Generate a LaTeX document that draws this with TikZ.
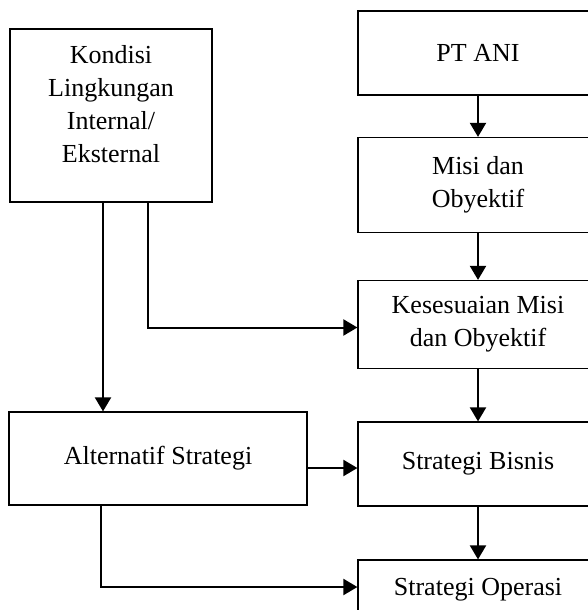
\documentclass[tikz,border=0pt]{standalone}
\usepackage{fontspec}
\setmainfont{Liberation Serif}
\usetikzlibrary{shapes,arrows.meta}
\tikzstyle{block} = [rectangle, draw, line width=1.2pt, text centered, align=center, font=\fontsize{26}{33}\selectfont]
\tikzstyle{line} = [draw, line width=2pt, -{Triangle[length=14pt,width=16pt]}]

\begin{document}
\begin{tikzpicture}[x=1pt, y=-1pt, node distance=139.5pt]
   \clip (0,0) rectangle (588,610);
   \node[block, minimum width=202pt, minimum height=173pt] (k) at (111,115.5) {Kondisi\\Lingkungan\\Internal/\\Eksternal\\[-10pt]};
   \node[block, minimum width=298pt, minimum height=93pt] (alt) at (158,458.5) {Alternatif Strategi};
   \node[block, minimum width=240pt, minimum height=84pt] (a) at (478,53) {PT ANI};
   \node[block, minimum width=240pt, minimum height=95pt] (b) [below of=a, node distance=132pt] {Misi dan\\Obyektif};
   \node[block, minimum width=240pt, minimum height=88pt] (c) [below of=b] {Kesesuaian Misi\\dan Obyektif};
   \node[block, minimum width=240pt, minimum height=84pt] (d) [below of=c] {Strategi Bisnis};
   \node[block, minimum width=240pt, minimum height=60pt] (e) [below of=d, node distance=126pt] {Strategi Operasi};
   \draw[line] (a) -- (b);
   \draw[line] (b) -- (c);
   \draw[line] (c) -- (d);
   \draw[line] (d) -- (e);
   \draw[line] ([xshift=-8pt]k.south) -- ([xshift=-8pt]k.south |- alt.north);
   \draw[line] ([xshift=37pt]k.south) |- ([yshift=-3pt]c.west);
   \draw[line] ([yshift=-4pt]d.west -| alt.east) -- ([yshift=-4pt]d.west);
   \draw[line] ([xshift=-57pt]alt.south) |- ([yshift=3pt]e.west);
\end{tikzpicture}
\end{document}
